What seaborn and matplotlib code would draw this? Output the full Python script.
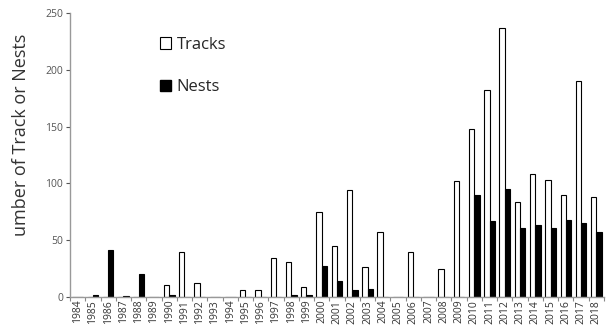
import numpy as np
import pandas as pd
import matplotlib
matplotlib.use('Agg')
import matplotlib.pyplot as plt
import seaborn as sns
from matplotlib.patches import Patch

years = [str(y) for y in range(1984, 2019)]
tracks = [0, 0, 0, 0, 0, 0, 11, 40, 12, 0, 0, 6, 6, 34, 31, 9, 75, 45, 94, 26, 57, 0, 40, 0, 25,
          102, 148, 182, 237, 84, 108, 103, 90, 190, 88]
nests = [0, 2, 41, 1, 20, 0, 2, 0, 0, 0, 0, 0, 0, 0, 2, 2, 27, 14, 6, 7, 0, 0, 0, 0, 0,
         0, 90, 67, 95, 61, 63, 61, 68, 65, 57]

df = pd.DataFrame({'year': years * 2,
                   'count': tracks + nests,
                   'kind': ['Tracks'] * len(years) + ['Nests'] * len(years)})

sns.set_theme(style='white')
plt.rcParams['font.family'] = ['Open Sans', 'DejaVu Sans']

fig = plt.figure(figsize=(6.06, 3.36), dpi=100)
ax = fig.add_axes([70 / 606, 39 / 336, 534 / 606, 284 / 336])

sns.barplot(data=df, x='year', y='count', hue='kind', palette={'Tracks': 'white', 'Nests': 'black'},
            width=0.7, edgecolor='black', linewidth=0.8, ax=ax, legend=False)

ax.set_ylim(0, 250)
ax.set_xlim(-0.5, len(years) - 0.5)
ax.set_yticks([0, 50, 100, 150, 200, 250])
ax.tick_params(axis='y', labelsize=7.5, colors='#555555', left=True, length=3, width=0.8, pad=2)
ax.tick_params(axis='x', labelsize=7.5, rotation=90, length=0, pad=2, labelcolor='#333333')
ax.set_xticks(np.arange(-0.5, len(years)), minor=True)
ax.tick_params(axis='x', which='minor', bottom=True, length=3, width=0.8, color='#888888')
for s in ['top', 'right']:
    ax.spines[s].set_visible(False)
for s in ['left', 'bottom']:
    ax.spines[s].set_color('#999999')
    ax.spines[s].set_linewidth(1)
ax.set_xlabel(None)
ax.set_ylabel('umber of Track or Nests', fontsize=13, color='#333333')
ax.yaxis.set_label_coords(-40 / 534, 0.57)

handles = [Patch(facecolor='white', edgecolor='black', linewidth=0.8, label='Tracks'),
           Patch(facecolor='black', edgecolor='black', label='Nests')]
ax.legend(handles=handles, loc='upper left', bbox_to_anchor=(0.14, 0.97), frameon=False,
          fontsize=12, labelspacing=1.6, handlelength=0.7, handleheight=0.7, handletextpad=0.3)

fig.savefig('out.png', dpi=100)
